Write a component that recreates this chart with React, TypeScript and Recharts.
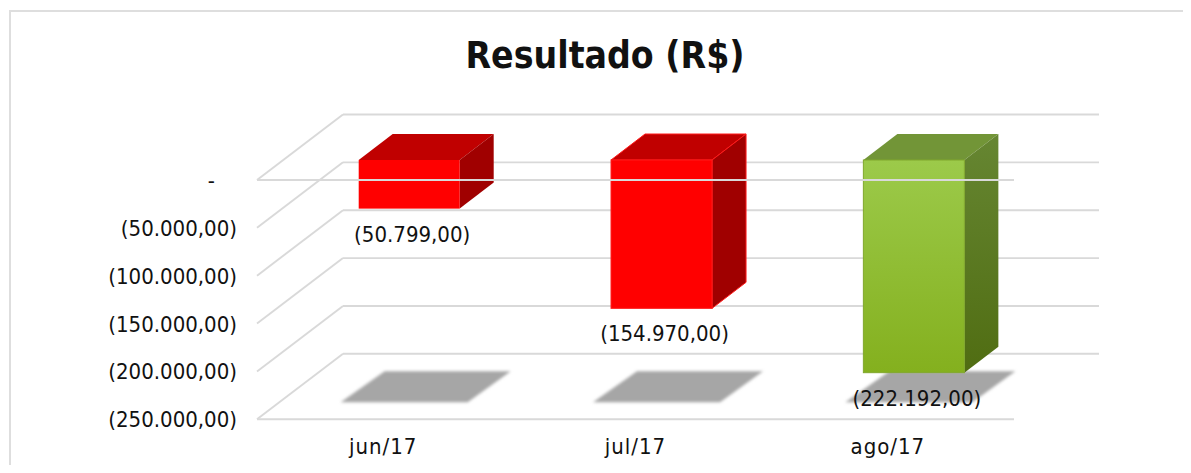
import React from "react";
import { BarChart, Bar, XAxis, YAxis, CartesianGrid, ReferenceLine, LabelList } from "recharts";

const categories = ["jun/17", "jul/17", "ago/17"];
const resultado = [-50799, -154970, -222192];
const yTicks = [0, -50000, -100000, -150000, -200000, -250000];
const title = "Resultado (R$)";

const FONT = "'DejaVu Sans Condensed', 'DejaVu Sans', sans-serif";
const FONT_SIZE = 22;
const data = categories.map((mes, i) => ({ mes, valor: resultado[i] }));

const fmt = (v: number) => {
  const a = Math.abs(v);
  const s = String(a).replace(/\B(?=(\d{3})+(?!\d))/g, ".");
  return `(${s},00)`;
};

const GRID = "#d9d9d9";
const GRID_W = 1.9;
const WALL_DX = 86;
const WALL_DY = -65.5;
const FACE_DX = 26;
const FACE_DY = -20;
const SIDE_DX = 34;
const SIDE_DY = -26;
const FLOOR_Y = 419.3;

const looks = [
  { front: "#ff0000", top: "#c00000", side: "#a00000", stroke: "none", frontStroke: "none" },
  { front: "#ff0000", top: "#c00000", side: "#a00000", stroke: "#ff1a1a", frontStroke: "#ff1a1a" },
  { front: "url(#greenFront)", top: "#729537", side: "url(#greenSide)", stroke: "none", frontStroke: "#80a82c" },
];

const GridLine = (p: any) => {
  const { x1, x2, y1, y2 } = p;
  const isFront = Math.abs(y1 - FLOOR_Y) < 1;
  return (
    <g key={`g-${y1}`}>
      <line x1={x1} y1={y1} x2={x1 + WALL_DX} y2={y1 + WALL_DY} stroke={GRID} strokeWidth={GRID_W} />
      <line x1={x1 + WALL_DX} y1={y1 + WALL_DY} x2={x2 + WALL_DX - 1} y2={y2 + WALL_DY} stroke={GRID} strokeWidth={GRID_W} />
      {isFront && <line x1={x1} y1={y1} x2={x2} y2={y2} stroke={GRID} strokeWidth={GRID_W} />}
    </g>
  );
};

const Box = (p: any) => {
  const { x, y, width, height, index } = p;
  const look = looks[index];
  const yTop = Math.min(y, y + height);
  const h = Math.abs(height);
  const l = x + FACE_DX;
  const r = l + width;
  const t = yTop + FACE_DY;
  const b = t + h;
  const sw = look.stroke === "none" ? 0 : 1;
  const yShTop = FLOOR_Y - 48;
  const yShBot = FLOOR_Y - 17;
  return (
    <g>
      <polygon
        points={`${l - 18},${yShBot} ${l + 26},${yShTop} ${l + 152},${yShTop} ${l + 109},${yShBot}`}
        fill="#a6a6a6"
        filter="url(#blurShadow)"
      />
      <polygon
        points={`${l},${t} ${l + SIDE_DX},${t + SIDE_DY} ${r + SIDE_DX},${t + SIDE_DY} ${r},${t}`}
        fill={look.top}
        stroke={look.stroke}
        strokeWidth={sw}
      />
      <polygon
        points={`${r},${t} ${r + SIDE_DX},${t + SIDE_DY} ${r + SIDE_DX},${b + SIDE_DY} ${r},${b}`}
        fill={look.side}
        stroke={look.stroke}
        strokeWidth={sw}
      />
      <rect x={l} y={t} width={width} height={h} fill={look.front} stroke={look.frontStroke} strokeWidth={1} />
    </g>
  );
};

const ValueLabel = (p: any) => {
  const { x, y, width, height, value } = p;
  const bottom = Math.max(y, y + height) + FACE_DY;
  return (
    <text
      x={x + FACE_DX + width / 2 + 3}
      y={bottom + 25}
      dy="0.36em"
      textAnchor="middle"
      fontFamily={FONT}
      fontSize={FONT_SIZE}
      fill="#111"
    >
      {fmt(value)}
    </text>
  );
};

const YTick = (p: any) => {
  const { x, y, payload } = p;
  const zero = payload.value === 0;
  return (
    <text x={zero ? x - 22 : x} y={y} dy="0.36em" textAnchor="end" fontFamily={FONT} fontSize={FONT_SIZE} fill="#111">
      {zero ? "-" : fmt(payload.value)}
    </text>
  );
};

const XTick = (p: any) => {
  const { x, y, payload } = p;
  return (
    <text x={x} y={y + 27} dy="0.36em" textAnchor="middle" fontFamily={FONT} fontSize={FONT_SIZE} letterSpacing={1} fill="#111">
      {payload.value}
    </text>
  );
};

export default function App() {
  return (
    <div style={{ position: "relative", width: 1191, height: 473, margin: -8, overflow: "hidden", background: "#fff" }}>
      <div style={{ position: "absolute", left: 9, top: 10, right: 0, height: 2, background: "#dedede" }} />
      <div style={{ position: "absolute", left: 9, top: 10, bottom: 0, width: 2, background: "#dedede" }} />
      <BarChart
        width={1191}
        height={473}
        data={data}
        barCategoryGap="30%"
        margin={{ top: 180, right: 177, bottom: 23.7, left: 197 }}
        style={{ position: "absolute", left: 0, top: 0 }}
      >
        <defs>
          <linearGradient id="greenFront" x1="0" y1="0" x2="0" y2="1">
            <stop offset="0" stopColor="#9cca4a" />
            <stop offset="1" stopColor="#84b01e" />
          </linearGradient>
          <linearGradient id="greenSide" x1="0" y1="0" x2="0" y2="1">
            <stop offset="0" stopColor="#668632" />
            <stop offset="1" stopColor="#506d12" />
          </linearGradient>
          <filter id="blurShadow" x="-10%" y="-20%" width="120%" height="140%">
            <feGaussianBlur stdDeviation="1.8" />
          </filter>
        </defs>
        <text x={605} y={68} textAnchor="middle" fontFamily={FONT} fontWeight="bold" fontSize={37} fill="#111">
          {title}
        </text>
        <CartesianGrid vertical={false} horizontal={GridLine} />
        <XAxis dataKey="mes" axisLine={false} tickLine={false} tickSize={0} tickMargin={0} height={30} tick={XTick} />
        <YAxis
          domain={[-250000, 0]}
          ticks={yTicks}
          axisLine={false}
          tickLine={false}
          tickSize={0}
          tickMargin={20}
          width={60}
          interval={0}
          tick={YTick}
        />
        <Bar dataKey="valor" isAnimationActive={false} shape={Box}>
          <LabelList dataKey="valor" content={ValueLabel} />
        </Bar>
        <ReferenceLine y={0} stroke={GRID} strokeWidth={GRID_W} isFront />
      </BarChart>
    </div>
  );
}
